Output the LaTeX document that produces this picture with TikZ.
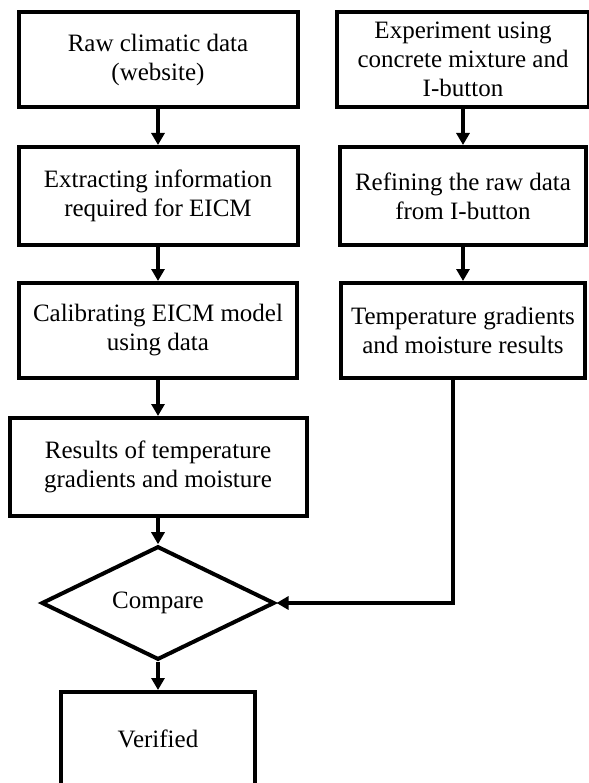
\documentclass[tikz,border=0pt]{standalone}
\usepackage{fontspec}
\setmainfont{Liberation Serif}
\usetikzlibrary{arrows.meta,shapes.geometric}

\begin{document}
\begin{tikzpicture}[>={Triangle[width=13pt,length=12pt]}, x=1pt, y=-1pt,
		box/.style={draw, line width=4pt, fill=white, inner sep=0pt, align=center, font=\fontsize{25}{29}\selectfont},
		flow/.style={->, line width=4pt}]
		\useasboundingbox (0,0) rectangle (588,783);
		\node[box, minimum width=279pt, minimum height=95pt] (raw) at (158,59.5) {Raw climatic data\\(website)};
		\node[box, minimum width=252pt, minimum height=95pt] (exper) at (463,59.5) {Experiment using\\concrete mixture and\\I-button};
		\node[box, minimum width=279pt, minimum height=98pt] (extract) at (158,196) {Extracting information\\required for EICM};
		\node[box, minimum width=246pt, minimum height=98pt] (refine) at (463,196) {Refining the raw data\\from I-button};
		\node[box, minimum width=278pt, minimum height=95pt] (calib) at (158,330.5) {Calibrating EICM model\\using data};
		\node[box, minimum width=244pt, minimum height=95pt] (tgres) at (463,330.5) {Temperature gradients\\and moisture results};
		\node[box, minimum width=297pt, minimum height=98pt] (results) at (158,467) {Results of  temperature\\gradients and moisture};
		\node[box, shape=diamond, minimum width=233pt, minimum height=95pt] (cmp) at (158,603) {Compare};
		\node[box, minimum width=194pt, minimum height=94pt] (verif) at (158,739) {Verified};
		\draw[flow] (raw) -- (extract);
		\draw[flow] (extract) -- (calib);
		\draw[flow] (calib) -- (results);
		\draw[flow] (results) -- (cmp);
		\draw[flow] (cmp) -- (verif);
		\draw[flow] (exper) -- (refine);
		\draw[flow] (refine) -- (tgres);
		\draw[flow] ([xshift=-10pt]tgres.south) |- (cmp.east);
	\end{tikzpicture}
\end{document}
